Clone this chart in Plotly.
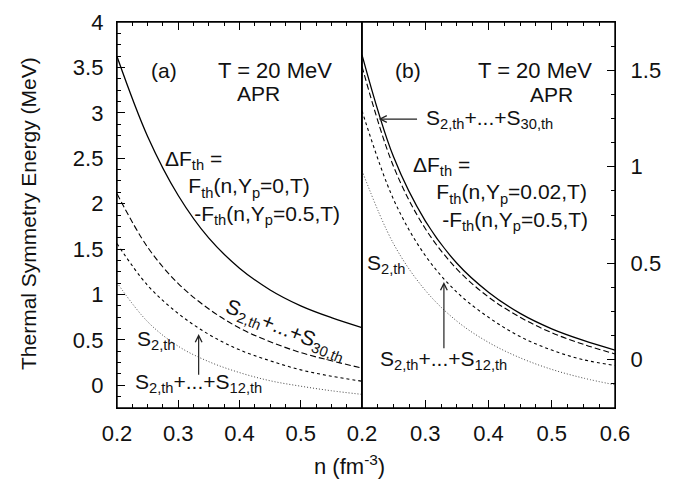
import plotly.graph_objects as go

# ---- data ----
n_vals = [0.2, 0.25, 0.3, 0.35, 0.4, 0.45, 0.5, 0.55, 0.6]

# panel (a): APR, T = 20 MeV, Yp = 0
a_dF = [3.62, 2.74, 2.09, 1.62, 1.29, 1.05, 0.875, 0.745, 0.635]
a_S30 = [2.11, 1.52, 1.12, 0.84, 0.63, 0.48, 0.36, 0.27, 0.19]
a_S12 = [1.56, 1.10, 0.79, 0.56, 0.39, 0.27, 0.17, 0.10, 0.045]
a_S2 = [1.13, 0.70, 0.43, 0.26, 0.14, 0.05, -0.01, -0.06, -0.10]

# panel (b): APR, T = 20 MeV, Yp = 0.02
b_dF = [1.58, 1.05, 0.72, 0.50, 0.35, 0.24, 0.16, 0.10, 0.05]
b_S30 = [1.52, 1.00, 0.68, 0.47, 0.325, 0.22, 0.14, 0.08, 0.03]
b_S12 = [1.29, 0.83, 0.54, 0.35, 0.22, 0.12, 0.05, 0.00, -0.03]
b_S2 = [0.98, 0.60, 0.36, 0.20, 0.09, 0.01, -0.05, -0.095, -0.13]

x_ticks_a = [0.2, 0.3, 0.4, 0.5]
x_ticks_b = [0.2, 0.3, 0.4, 0.5, 0.6]
y_ticks_a = [0, 0.5, 1, 1.5, 2, 2.5, 3, 3.5, 4]
y_ticks_b = [0, 0.5, 1, 1.5]

FONT = "Liberation Sans, Arial, sans-serif"
FS = 21
TFS = 22

fig = go.Figure()

styles = [
    ("solid", 1.3, "black"),
    ("6px,3px", 1.1, "black"),
    ("3px,3px", 1.1, "black"),
    ("1px,2px", 1.0, "#444"),
]

for series, (dash, w, c) in zip([a_dF, a_S30, a_S12, a_S2], styles):
    fig.add_trace(go.Scatter(x=n_vals, y=series, mode="lines", xaxis="x", yaxis="y",
                             line=dict(color=c, width=w, dash=dash, shape="spline"),
                             showlegend=False))
for series, (dash, w, c) in zip([b_dF, b_S30, b_S12, b_S2], styles):
    fig.add_trace(go.Scatter(x=n_vals, y=series, mode="lines", xaxis="x2", yaxis="y2",
                             line=dict(color=c, width=w, dash=dash, shape="spline"),
                             showlegend=False))

split = 245 / 498
common_axis = dict(showline=True, linecolor="black", linewidth=1.4, ticks="inside",
                   tickcolor="black", ticklen=8, tickwidth=1, showgrid=False, zeroline=False,
                   ticklabeloverflow="allow",
                   tickfont=dict(family=FONT, size=TFS, color="#111"))

fig.update_layout(
    width=698, height=482,
    margin=dict(l=117, r=83, t=10, b=74),
    paper_bgcolor="white", plot_bgcolor="white",
    font=dict(family=FONT, size=FS, color="black"),
    xaxis=dict(domain=[0, split], range=[0.2, 0.6], tickvals=x_ticks_a,
               mirror="ticks", anchor="y", ticklabelstandoff=5,
               minor=dict(dtick=0.025, tick0=0.2, ticks="inside", ticklen=4, tickcolor="black"),
               **common_axis),
    xaxis2=dict(domain=[split, 1], range=[0.2, 0.6], tickvals=x_ticks_b,
                mirror="ticks", anchor="y2", ticklabelstandoff=5,
                minor=dict(dtick=0.025, tick0=0.2, ticks="inside", ticklen=4, tickcolor="black"),
                **common_axis),
    yaxis=dict(domain=[0, 1], range=[-0.25, 4], tickvals=y_ticks_a, anchor="x",
               mirror=False, ticklabelstandoff=8,
               minor=dict(dtick=0.125, tick0=0, ticks="inside", ticklen=4, tickcolor="black"),
               **common_axis),
    yaxis2=dict(domain=[0, 1], range=[-0.25, 1.75], tickvals=y_ticks_b, anchor="x2",
                side="right", mirror=True, ticklabelstandoff=10,
                minor=dict(dtick=0.125, tick0=0, ticks="inside", ticklen=4, tickcolor="black"),
                **common_axis),
    shapes=[
        dict(type="rect", xref="x domain", yref="y domain", x0=0, x1=1, y0=0, y1=1,
             line=dict(color="black", width=1.4), fillcolor="rgba(0,0,0,0)", layer="above"),
        dict(type="rect", xref="x2 domain", yref="y2 domain", x0=0, x1=1, y0=0, y1=1,
             line=dict(color="black", width=1.4), fillcolor="rgba(0,0,0,0)", layer="above"),
    ],
)

S = lambda k: f"S<sub>{k}</sub>"
sub = lambda t: f"<sub>{t}</sub>"
sp = lambda k: "&nbsp;" * k

anns = []
def txt(x, y, text, xref="x", yref="y", xanchor="center", angle=0, size=FS, yanchor="middle"):
    anns.append(dict(x=x, y=y, xref=xref, yref=yref, text=text, showarrow=False,
                     xanchor=xanchor, yanchor=yanchor, textangle=angle, align="left",
                     font=dict(family=FONT, size=size, color="#111")))

def arrow(x, y, ax, ay, xref="x", yref="y"):
    anns.append(dict(x=x, y=y, ax=ax, ay=ay, xref=xref, yref=yref, axref=xref, ayref=yref,
                     text="", showarrow=True, arrowhead=5, arrowsize=1.1, arrowwidth=1.2,
                     arrowcolor="#222"))

dF_a = ("ΔF" + sub("th") + " =<br>" + sp(4) + "F" + sub("th") + "(n,Y" + sub("p") + "=0,T)<br>"
        + sp(5) + "-F" + sub("th") + "(n,Y" + sub("p") + "=0.5,T)")
dF_b = ("ΔF" + sub("th") + " =<br>" + sp(4) + "F" + sub("th") + "(n,Y" + sub("p") + "=0.02,T)<br>"
        + sp(5) + "-F" + sub("th") + "(n,Y" + sub("p") + "=0.5,T)")

# panel (a)
txt(0.2764, 3.465, "(a)")
txt(0.555, 3.465, "T = 20 MeV", xanchor="right", size=22)
txt(0.4315, 3.21, "APR")
txt(0.2756, 2.18, dF_a, xanchor="left")
txt(0.2299, 0.50, S("2,th"), xanchor="left")
txt(0.2266, 0.02, S("2,th") + "+...+" + S("12,th"), xanchor="left")
arrow(0.3333, 0.565, 0.3333, 0.10)
txt(0.4748, 0.61, S("2,th") + "+...+" + S("30,th"), angle=22)

# panel (b)
txt(0.2727, 1.499, "(b)", xref="x2", yref="y2")
txt(0.5671, 1.499, "T = 20 MeV", xref="x2", yref="y2", xanchor="right", size=22)
txt(0.499, 1.376, "APR", xref="x2", yref="y2")
txt(0.2973, 1.247, S("2,th") + "+...+" + S("30,th"), xref="x2", yref="y2", xanchor="left")
arrow(0.2263, 1.247, 0.2894, 1.247, xref="x2", yref="y2")
txt(0.2767, 0.86, dF_b, xref="x2", yref="y2", xanchor="left")
txt(0.2052, 0.494, S("2,th"), xref="x2", yref="y2", xanchor="left")
txt(0.2259, 0.001, S("2,th") + "+...+" + S("12,th"), xref="x2", yref="y2", xanchor="left")
arrow(0.3295, 0.403, 0.3295, 0.0515, xref="x2", yref="y2")

# axis titles
txt(-0.1787, 0.5025, "Thermal Symmetry Energy (MeV)", xref="paper", yref="paper", angle=-90, size=21)
txt(0.466, -0.148, "n (fm<sup>-3</sup>)", xref="paper", yref="paper", size=22)

fig.update_layout(annotations=anns)
fig.write_html("out.html")
